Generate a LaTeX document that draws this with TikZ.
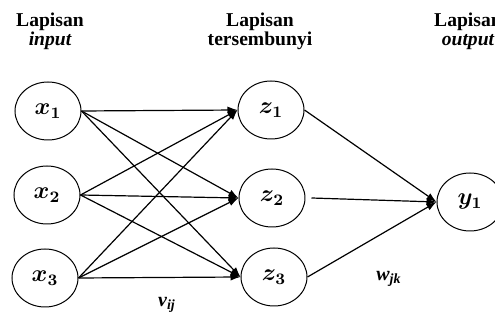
\documentclass[tikz,border=0pt]{standalone}
\usepackage{fontspec}
\setmainfont{Liberation Serif}
\usetikzlibrary{positioning,arrows.meta,shapes.geometric}

\begin{document}
\begin{tikzpicture}[
  x=0.5pt, y=-0.5pt,
  >={Latex[length=5pt,width=3.6pt]},
  neuron/.style={draw, ellipse, line width=0.5pt, minimum width=33pt,
                 minimum height=29pt, inner sep=0pt,
                 font=\fontsize{12}{14}\selectfont\boldmath},
  layer/.style={align=center, font=\fontsize{9.8}{9.5}\selectfont\bfseries},
  wt/.style={font=\fontsize{10}{12}\selectfont\bfseries\itshape},
  conn/.style={->, line width=0.6pt}
]
\clip (0,0) rectangle (495,320);

% ---------- judul lapisan ----------
\node[layer] (tin)  at (50,31)  {Lapisan\\ \itshape input};
\node[layer] (thid) at (260,31) {Lapisan\\ tersembunyi};
\node[layer] (tout) at (468,31) {Lapisan\\ \itshape output};

% ---------- neuron ----------
\node[neuron] (x1) at (48,111) {$x_1$};
\node[neuron] (x2) at (47,195) {$x_2$};
\node[neuron] (x3) at (45,278) {$x_3$};
\node[neuron] (z1) at (271,110) {$z_1$};
\node[neuron] (z2) at (272,198) {$z_2$};
\node[neuron] (z3) at (274,277) {$z_3$};
\node[neuron] (y1) at (470,202) {$y_1$};

% ---------- bobot input -> tersembunyi ----------
\foreach \i in {1,2,3}
  \foreach \j in {1,2,3}
    \draw[conn] (x\i.east) -- (z\j.west);

% ---------- bobot tersembunyi -> output ----------
\draw[conn] (z1.east) -- (y1.west);
\draw[conn] ([xshift=3pt]z2.east) -- (y1.west);
\draw[conn] (z3.east) -- (y1.west);

% ---------- label bobot ----------
\node[wt] (vij) at (167,305) {v\textsubscript{ij}};
\node[wt] (wjk) at (389,279) {w\textsubscript{jk}};

\end{tikzpicture}
\end{document}
